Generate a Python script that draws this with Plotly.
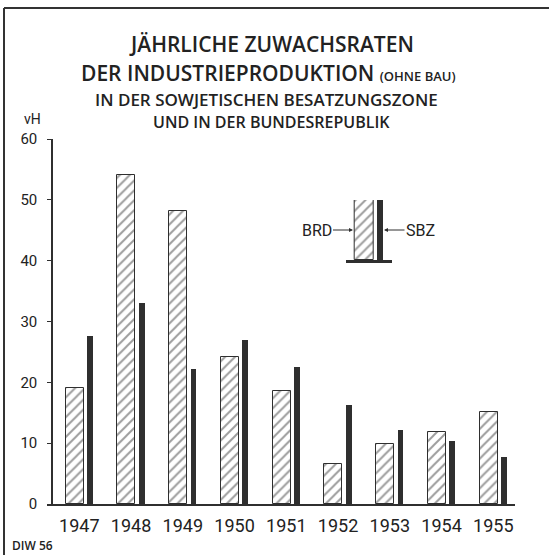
import plotly.graph_objects as go

# ---- data ----
years = ["1947", "1948", "1949", "1950", "1951", "1952", "1953", "1954", "1955"]
brd = [19.0, 54.1, 48.2, 24.1, 18.6, 6.6, 9.8, 11.9, 15.1]
sbz = [27.6, 33.0, 22.2, 27.0, 22.6, 16.2, 12.2, 10.4, 7.8]
y_ticks = [0, 10, 20, 30, 40, 50, 60]
legend_labels = ["BRD", "SBZ"]
legend_values = [1, 1]

W, H = 549, 555
L, R, T, B = 47, 34, 139, 51
PW, PH = W - L - R, H - T - B

INK = "#2f2f2f"
FONT = "Roboto"
TFONT = "Open Sans"
HATCH = dict(shape="/", size=7, solidity=0.28, fgcolor="#3a3a3a", bgcolor="white")


def px(x):
    return (x - L) / PW


def py(y):
    return (H - B - y) / PH


xi = list(range(len(years)))

fig = go.Figure()
fig.add_trace(go.Bar(
    x=xi, y=brd, width=0.347, offset=-0.263,
    marker=dict(color="white", line=dict(color=INK, width=1), pattern=HATCH),
    showlegend=False, name="BRD"))
fig.add_trace(go.Bar(
    x=xi, y=sbz, width=0.11, offset=0.153,
    marker=dict(color=INK, line=dict(width=0)),
    showlegend=False, name="SBZ"))

# legend inset as small bars on own axes
fig.add_trace(go.Bar(
    x=[0], y=[legend_values[0]], width=0.413, offset=0.187, xaxis="x2", yaxis="y2",
    marker=dict(color="white", line=dict(color=INK, width=1), pattern=HATCH),
    showlegend=False))
fig.add_trace(go.Bar(
    x=[0], y=[legend_values[1]], width=0.122, offset=0.674, xaxis="x2", yaxis="y2",
    marker=dict(color=INK, line=dict(width=0)), showlegend=False))

ann = []
# title lines
ann.append(dict(x=px(271), y=py(44), text="JÄHRLICHE ZUWACHSRATEN",
                font=dict(family=TFONT, size=21, color="#222", weight=600)))
ann.append(dict(x=px(268), y=py(73.5),
                text="DER INDUSTRIEPRODUKTION <span style='font-size:13px'>(OHNE BAU)</span>",
                font=dict(family=TFONT, size=21, color="#222", weight=600)))
ann.append(dict(x=px(266), y=py(99.5), text="IN DER SOWJETISCHEN BESATZUNGSZONE",
                font=dict(family=TFONT, size=17, color="#222", weight=600)))
ann.append(dict(x=px(271), y=py(122), text="UND IN DER BUNDESREPUBLIK",
                font=dict(family=TFONT, size=16, color="#222", weight=600)))
for a in ann:
    a.update(xref="paper", yref="paper", showarrow=False, xanchor="center", yanchor="middle")

# y unit label
ann.append(dict(x=px(22), y=py(119), text="vH", xref="paper", yref="paper", showarrow=False,
                xanchor="left", yanchor="middle", font=dict(family=FONT, size=14, color="#222")))
# source
ann.append(dict(x=px(10), y=py(545.5), text="DIW 56", xref="paper", yref="paper", showarrow=False,
                xanchor="left", yanchor="middle", font=dict(family=TFONT, size=12, color="#222", weight=600)))
# legend arrows
ann.append(dict(x=px(353), y=py(230), ax=-36.5, ay=0, text=legend_labels[0], xref="paper", yref="paper",
                showarrow=True, arrowhead=2, arrowsize=0.8, arrowwidth=1, arrowcolor=INK,
                font=dict(family=FONT, size=16, color="#222")))
ann.append(dict(x=px(384), y=py(230), ax=36.5, ay=0, text=legend_labels[1], xref="paper", yref="paper",
                showarrow=True, arrowhead=2, arrowsize=0.8, arrowwidth=1, arrowcolor=INK,
                font=dict(family=FONT, size=16, color="#222")))

shapes = [
    dict(type="line", xref="paper", yref="paper", x0=px(4), x1=px(549), y0=py(8), y1=py(8),
         line=dict(color="#333", width=2)),
    dict(type="line", xref="paper", yref="paper", x0=px(4), x1=px(4), y0=py(8), y1=py(555),
         line=dict(color="#333", width=2)),
]

fig.update_layout(
    width=W, height=H,
    margin=dict(l=L, r=R, t=T, b=B, pad=0),
    paper_bgcolor="white", plot_bgcolor="rgba(0,0,0,0)",
    barmode="overlay", bargap=0,
    annotations=ann, shapes=shapes,
    xaxis=dict(range=[(47 - 79.3) / 51.75, (515 - 79.3) / 51.75], tickvals=xi, ticktext=years,
               showgrid=False, zeroline=False, showline=True, linecolor=INK, linewidth=2,
               ticks="", tickfont=dict(family=FONT, size=18, color="#222"), ticklabelstandoff=4),
    yaxis=dict(range=[0, 60], tickvals=y_ticks, showgrid=False, zeroline=False,
               showline=True, linecolor=INK, linewidth=1.5, ticks="outside", ticklen=4,
               tickcolor=INK, anchor="free", position=5 / PW,
               tickfont=dict(family=FONT, size=15, color="#222"), ticklabelstandoff=7),
    xaxis2=dict(domain=[px(345.7), px(391.7)], range=[0, 1], anchor="y2", showgrid=False,
                zeroline=False, showline=True, linecolor=INK, linewidth=3, showticklabels=False, ticks=""),
    yaxis2=dict(domain=[py(260), py(200)], range=[0, 1], anchor="x2", showgrid=False,
                zeroline=False, showline=False, showticklabels=False, ticks=""),
    font=dict(family=FONT, color="#222"),
)

fig.write_html("out.html", config={"displayModeBar": False},
               post_script="document.body.style.margin='0';document.body.style.overflow='hidden';")
